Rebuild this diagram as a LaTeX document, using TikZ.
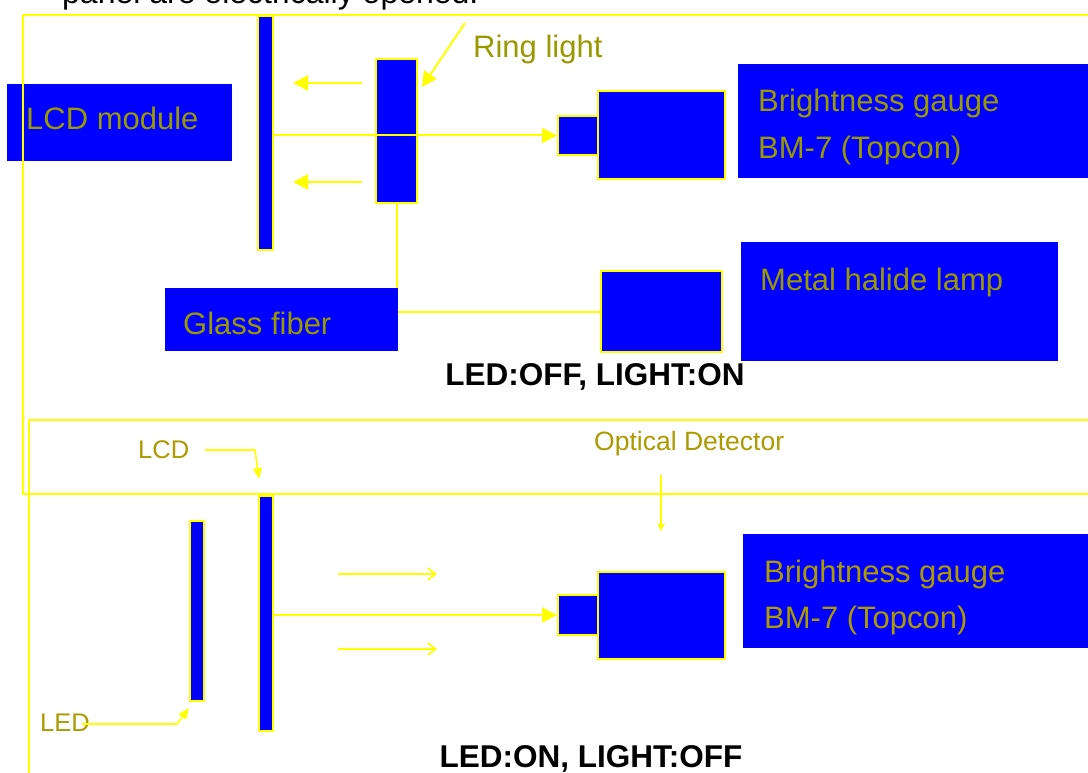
\documentclass[tikz,border=0pt]{standalone}
\usepackage{fontspec}
\setmainfont{Liberation Sans}
\usetikzlibrary{arrows.meta}
\definecolor{olA}{RGB}{153,153,0}
\definecolor{olB}{RGB}{172,155,0}
\definecolor{yel}{RGB}{255,255,0}
\definecolor{blu}{RGB}{0,0,255}
\tikzset{
  part/.style={fill=blu, draw=yel, line width=2pt, inner sep=0pt, anchor=north west},
  lblbox/.style={fill=blu, draw=none, inner sep=0pt, anchor=north west},
  frame/.style={draw=yel, line width=2pt},
  ray/.style={draw=yel, line width=2pt},
  big/.style={font=\fontsize{31}{36}\selectfont, anchor=base west, inner sep=0pt},
  small/.style={font=\fontsize{25.5}{30}\selectfont, anchor=base west, inner sep=0pt},
  title/.style={font=\fontsize{31.5}{37}\selectfont\bfseries, anchor=base, inner sep=0pt},
  bighead/.style={-{Triangle[length=15pt,width=15pt]}},
  smallhead/.style={-{Triangle[length=11pt,width=9pt]}},
  barb/.style={-{Straight Barb[length=8pt,width=12pt,line width=1.6pt]}},
}
\begin{document}
\begin{tikzpicture}[x=1pt,y=-1pt]
\useasboundingbox (0,0) rectangle (1088,773);
\clip (0,0) rectangle (1088,773);
\fill[white] (0,0) rectangle (1088,773);

% cut-off heading (cut at the top edge, as in the reference)
\node[anchor=base west, inner sep=0pt, font=\fontsize{32}{38}\selectfont] (head) at (62,4) {panel are electrically opened.};

% ---------------- top panel ----------------
\node[lblbox, minimum width=225pt, minimum height=77pt] (lcdmod) at (7,84) {};
\node[big, text=olA] (lcdmodt) at (26,130) {LCD module};

\draw[frame] (23,15) rectangle (1110,494);
\draw[frame] (29,420) rectangle (1110,800);

% fiber line (under glass fiber box)
\node[part, minimum width=41pt, minimum height=144pt] (ring) at (375,58) {};
\node[part, minimum width=121pt, minimum height=81pt] (lamp) at (600,270) {};
\draw[ray] (ring.south) |- (lamp.west);

\node[lblbox, minimum width=233pt, minimum height=63pt] (fiber) at (165,288) {};
\node[big, text=olA] (fibert) at (183,334) {Glass fiber};

\node[part, minimum width=15pt, minimum height=234pt] (lcdA) at (257,15) {};
\node[part, minimum width=40pt, minimum height=39pt] (detA) at (557,115) {};
\node[part, minimum width=127pt, minimum height=88pt] (gaugeA) at (597,90) {};

\node[lblbox, minimum width=360pt, minimum height=114pt] (gaugeAl) at (738,64) {};
\node[big, text=olA] (gaugeAt1) at (758,112) {Brightness gauge};
\node[big, text=olA] (gaugeAt2) at (758,159) {BM-7 (Topcon)};

\node[lblbox, minimum width=317pt, minimum height=119pt] (lampl) at (741,242) {};
\node[big, text=olA] (lampt) at (760,290) {Metal halide lamp};

% rays top
\draw[ray, bighead] (lcdA.east |- detA.west) -- (detA.west);
\coordinate (la1) at (362,83);  \coordinate (la1e) at (293,83);
\coordinate (la2) at (362,182); \coordinate (la2e) at (293,182);
\draw[ray, bighead] (la1) -- (la1e);
\draw[ray, bighead] (la2) -- (la2e);

\node[big, text=olA] (ringt) at (473,58) {Ring light};
\coordinate (rl0) at (465,23);
\coordinate (rl1) at (422,87);
\draw[ray, bighead] (rl0) -- (rl1);

\node[title] (t1) at (595,385) {LED:OFF, LIGHT:ON};

% ---------------- bottom panel ----------------
\node[part, minimum width=14pt, minimum height=180pt] (led) at (189,520) {};
\node[part, minimum width=14pt, minimum height=235pt] (lcdB) at (258,495) {};
\node[part, minimum width=40pt, minimum height=40pt] (detB) at (557,594) {};
\node[part, minimum width=127pt, minimum height=87pt] (gaugeB) at (597,571) {};

\node[lblbox, minimum width=355pt, minimum height=114pt] (gaugeBl) at (743,534) {};
\node[big, text=olB] (gaugeBt1) at (764,582) {Brightness gauge};
\node[big, text=olB] (gaugeBt2) at (764,628) {BM-7 (Topcon)};

\draw[ray, bighead] (lcdB.east |- detB.west) -- (detB.west);
\coordinate (s1) at (338,574); \coordinate (s1e) at (437,574);
\coordinate (s2) at (338,649); \coordinate (s2e) at (437,649);
\draw[ray, line width=1.6pt, barb] (s1) -- (s1e);
\draw[ray, line width=1.6pt, barb] (s2) -- (s2e);

\node[small, text=olB] (lcdt) at (138,458) {LCD};
\coordinate (lc0) at (205,450);
\coordinate (lc1) at (255,450);
\coordinate (lc2) at (259,479);
\draw[ray, line width=1.6pt, smallhead] (lc0) -- (lc1) -- (lc2);

\node[small, text=olB, font=\fontsize{26.5}{31}\selectfont] (opt) at (594,450) {Optical Detector};
\coordinate (od0) at (661,475);
\coordinate (od1) at (661,531);
\draw[ray, line width=1.6pt, -{Stealth[length=8pt,width=8pt]}] (od0) -- (od1);

\node[small, text=olB] (ledt) at (40,731) {LED};
\coordinate (le0) at (82,724);
\coordinate (le1) at (177,724);
\coordinate (le2) at (189,708);
\draw[ray, line width=1.6pt, smallhead] (le0) -- (le1) -- (le2);

\node[title] (t2) at (591,767) {LED:ON, LIGHT:OFF};
\end{tikzpicture}
\end{document}
